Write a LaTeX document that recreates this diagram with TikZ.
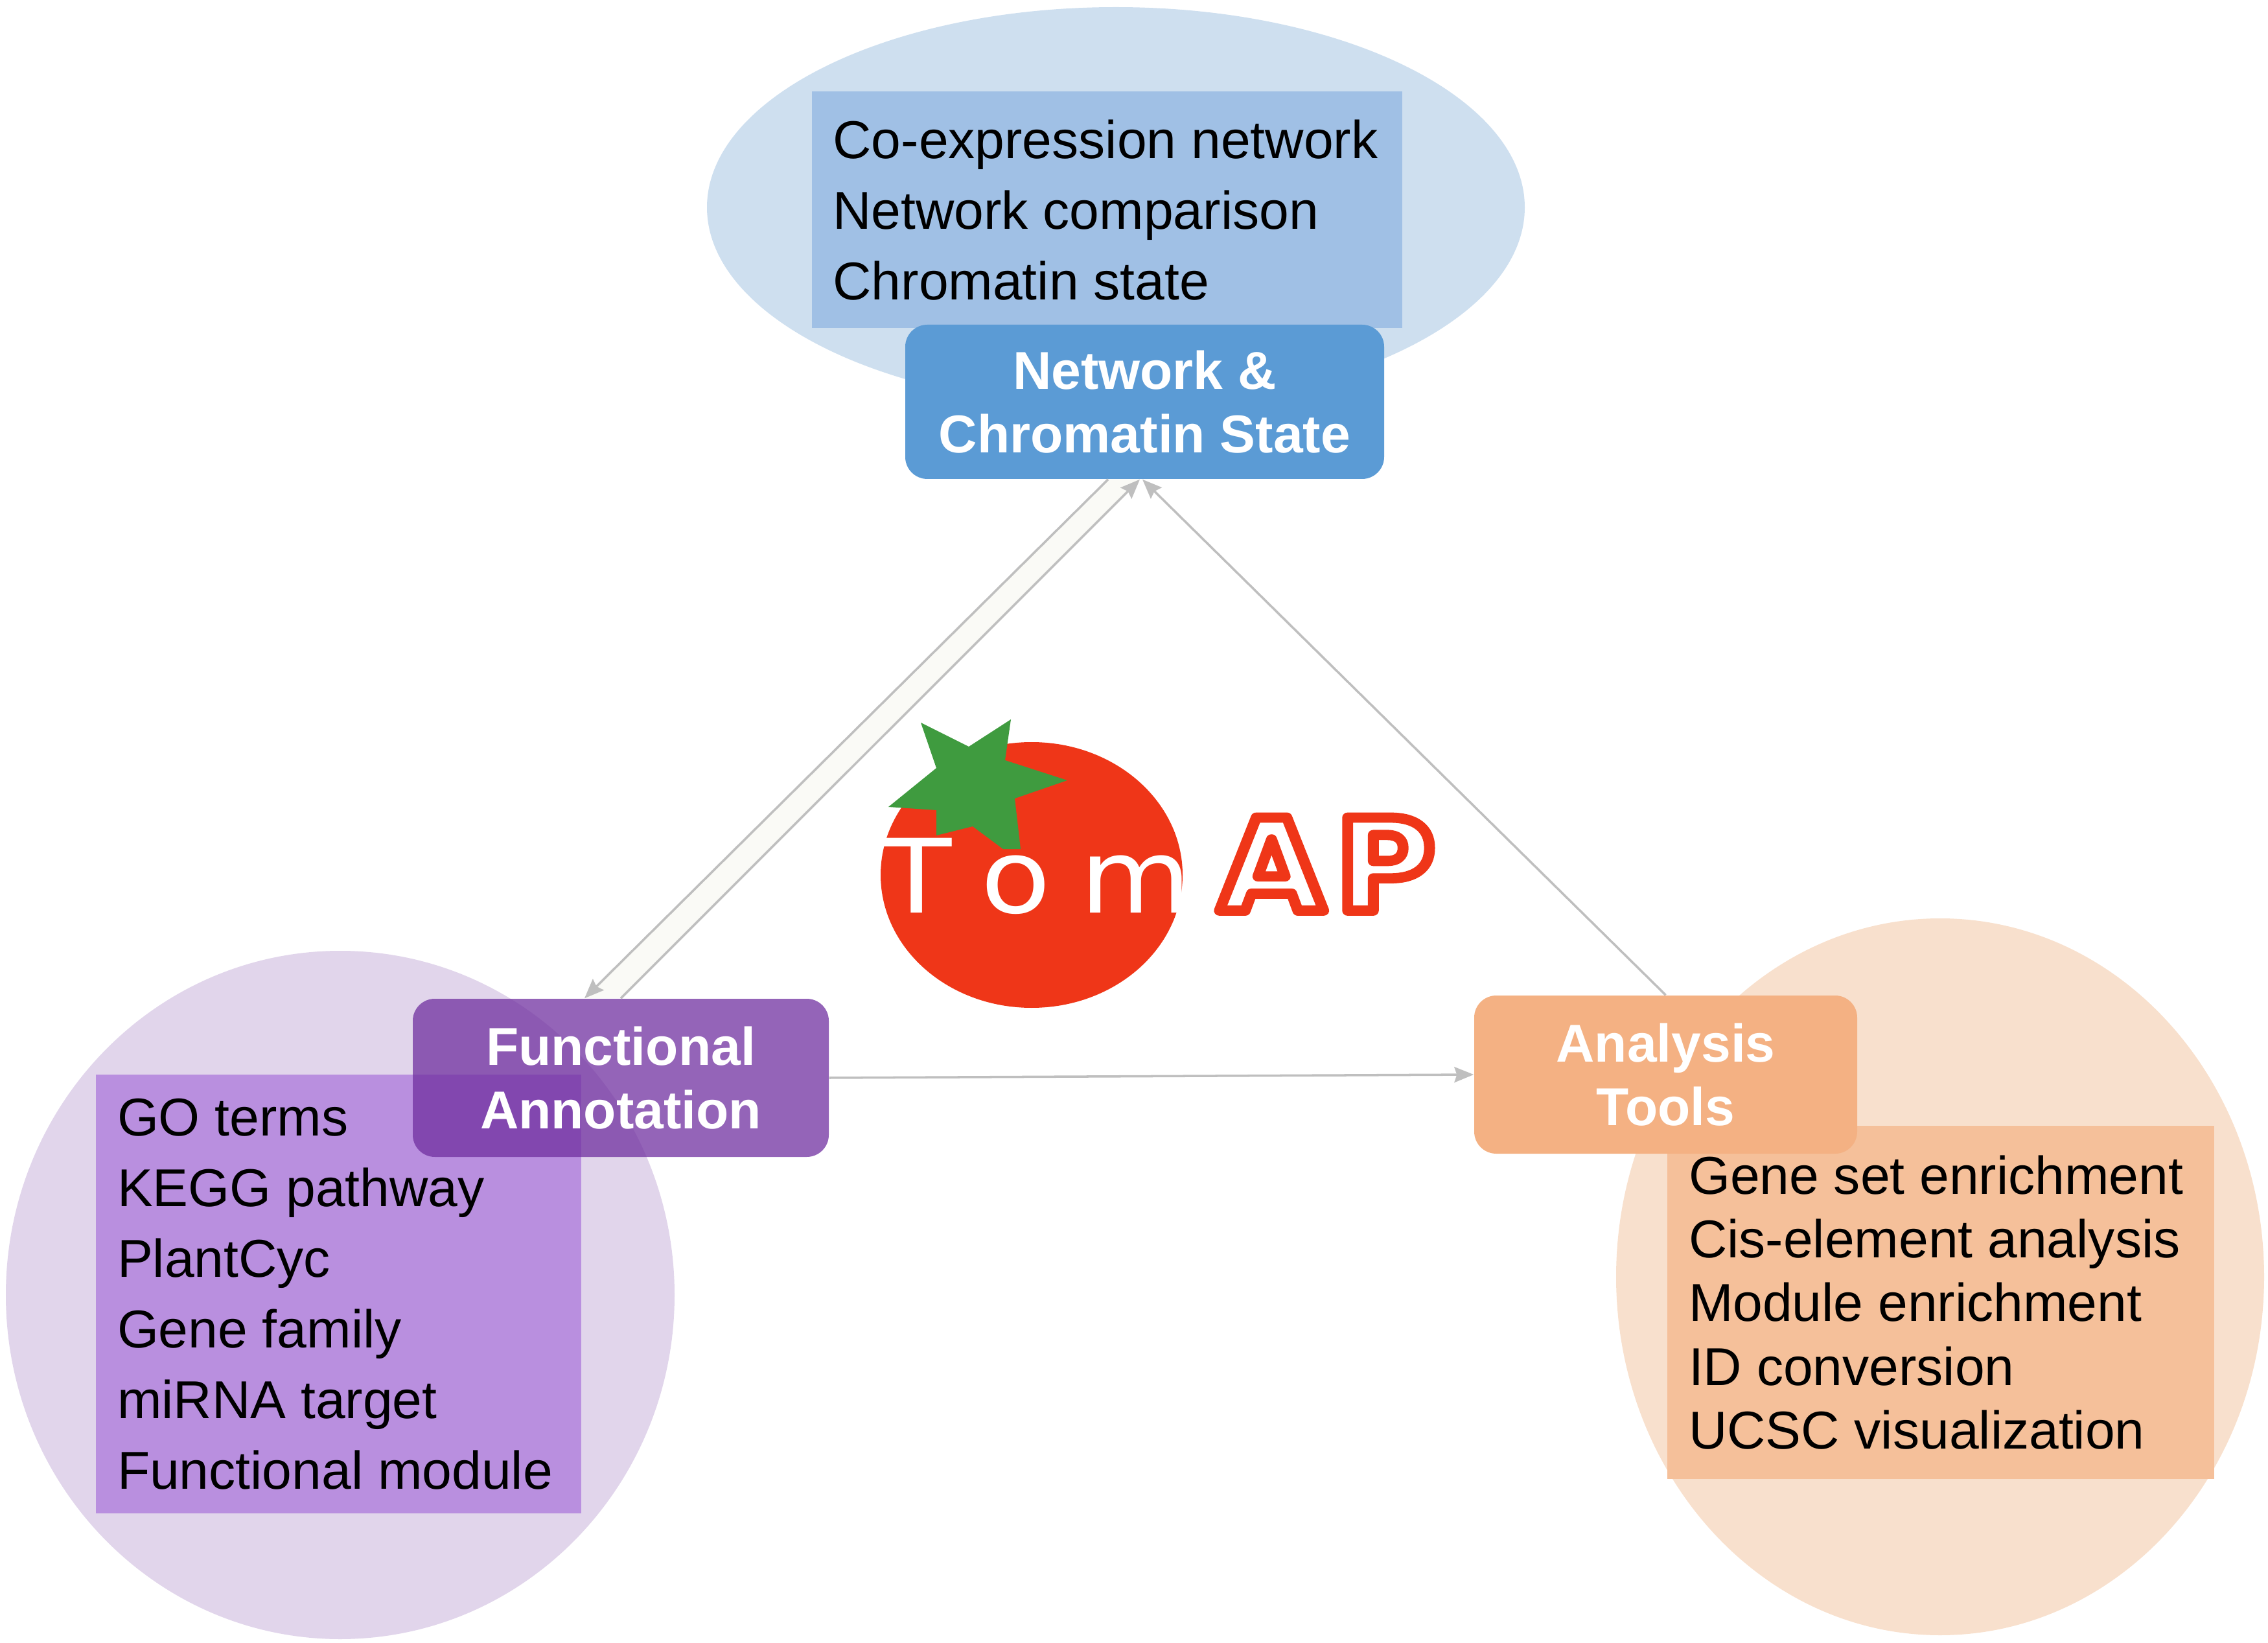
\documentclass[tikz,border=0pt]{standalone}
\usepackage{fontspec}
\setmainfont{Liberation Sans}
\newfontfamily\logofont{DejaVu Sans}
\usetikzlibrary{arrows.meta}
\tikzset{
  listbox/.style={inner xsep=0.33cm, inner ysep=0, align=left, text=black, font=\fontsize{23.4}{31}\selectfont},
  headbox/.style={rounded corners=0.34cm, inner sep=0, align=center, text=white, font=\bfseries\fontsize{23.4}{28}\selectfont},
  flowline/.style={draw=colorline, line width=1pt, -{Stealth[length=0.3cm,width=0.24cm,inset=0.04cm]}},
}
\begin{document}
\begin{tikzpicture}
% Define colors
\definecolor{colorline}{HTML}{BFBFBF}
\definecolor{colorband}{HTML}{FAFAF6}
\definecolor{colornet}{HTML}{5B9BD5}
\definecolor{colornetback}{HTML}{CEDFEF}
\definecolor{colornetlist}{HTML}{A0C0E5}
\definecolor{colorfunc}{HTML}{7030A0}
\definecolor{colorfuncback}{HTML}{E1D5EB}
\definecolor{colorfunclist}{HTML}{B98FDF}
\definecolor{colortool}{HTML}{F4B183}
\definecolor{colortoolback}{HTML}{F8E0CD}
\definecolor{colortoollist}{HTML}{F5C09A}
\definecolor{colortomato}{HTML}{EF3618}
\definecolor{colorleaf}{HTML}{3F9B3F}
\useasboundingbox (0,0) rectangle (35,-25.35);
  %%%%%%%%%%The circles
  \fill[colornetback] (17.22,-3.2) ellipse [x radius=6.31, y radius=3.09];
  \fill[colorfuncback] (5.25,-19.98) ellipse [x radius=5.16, y radius=5.31];
  \fill[colortoolback] (29.94,-19.7) ellipse [x radius=5.0, y radius=5.53];
  % Define nodes
  \node[listbox, fill=colornetlist, minimum width=9.11cm, minimum height=3.65cm] (netlist) at (17.08,-3.24) {\parbox{8.45cm}{Co-expression network\\Network comparison\\Chromatin state}};
  \node[listbox, fill=colorfunclist, minimum width=7.49cm, minimum height=6.77cm] (funclist) at (5.225,-19.965) {\parbox{6.83cm}{GO terms\\KEGG pathway\\PlantCyc\\Gene family\\miRNA target\\Functional module}};
  \node[listbox, fill=colortoollist, minimum width=8.44cm, minimum height=5.45cm, font=\fontsize{23.4}{28}\selectfont] (toollist) at (29.95,-20.095) {\parbox{7.78cm}{Gene set enrichment\\Cis-element analysis\\Module enrichment\\ID conversion\\UCSC visualization}};
  \node[headbox, fill=colornet, minimum width=7.39cm, minimum height=2.38cm] (netbox) at (17.665,-6.2) {Network \&\\Chromatin State};
  \node[headbox, fill=colorfunc, fill opacity=0.75, text opacity=1, minimum width=6.42cm, minimum height=2.44cm] (funcbox) at (9.58,-16.63) {Functional\\Annotation};
  \node[headbox, fill=colortool, minimum width=5.91cm, minimum height=2.44cm] (toolbox) at (25.705,-16.58) {Analysis\\Tools};
  %%%%%%%%%%The arrows
  \fill[colorband] ([xshift=-0.565cm]netbox.south) -- ([xshift=-0.075cm]netbox.south) -- (funcbox.north) -- ([xshift=-0.56cm]funcbox.north) -- cycle;
  \draw[flowline] ([xshift=-0.565cm]netbox.south) -- ([xshift=-0.56cm]funcbox.north);
  \draw[flowline] (funcbox.north) -- ([xshift=-0.075cm]netbox.south);
  \draw[flowline] (toolbox.north) -- ([xshift=-0.035cm]netbox.south);
  \draw[flowline] (funcbox.east) -- (toolbox.west);
  %%%%%%%%%%The logo
  \fill[colortomato] (15.92,-13.5) ellipse [x radius=2.33, y radius=2.05];
  \fill[colorleaf] (14.21,-11.15) -- (14.95,-11.52) -- (15.6,-11.1) -- (15.51,-11.73) -- (16.47,-12.04) -- (15.66,-12.32) -- (15.75,-13.1) -- (15.48,-13.1) -- (15.01,-12.75) -- (14.45,-12.89) -- (14.45,-12.5) -- (13.71,-12.45) -- (14.45,-11.85) -- cycle;
  \node[text=white, anchor=base west, inner sep=0, xscale=1.12, font=\logofont\fontsize{45}{45}\selectfont] (logotom) at (13.6,-14.08) {\addfontfeature{LetterSpace=25,Kerning=Off}Tom};
  \node[text=white, anchor=base west, inner sep=0, xscale=1.07, font=\logofont\bfseries\fontsize{56}{56}\selectfont] (logoap) at (18.8,-14.05) {\special{pdf:code 1 j}\special{pdf:bcolor [1 1 1] [0.937 0.212 0.094]}\addfontfeature{FakeBold=8,LetterSpace=8,Kerning=Off}AP\special{pdf:ecolor}};
\end{tikzpicture}
\end{document}
